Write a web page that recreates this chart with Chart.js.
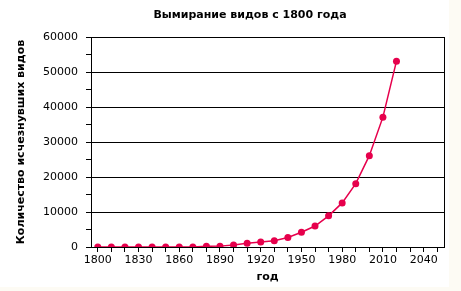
<!DOCTYPE html>
<html>
<head>
<meta charset="utf-8">
<script src="https://cdn.jsdelivr.net/npm/chart.js@4"></script>
<style>
  body { margin: 0; background: #fdfbf4; }
  canvas { display: block; }
</style>
</head>
<body>
<canvas id="myChart" width="461" height="291"></canvas>
<script>
const years = ['1800','1810','1820','1830','1840','1850','1860','1870','1880','1890',
    '1900','1910','1920','1930','1940','1950','1960','1970','1980','1990',
    '2000','2010','2020','2030','2040','2050']
const extinct = [0, 0, 0, 0, 0, 0, 0, 0, 200, 250,
    600, 1100, 1400, 1800, 2700, 4200, 6000, 8900, 12600, 18100,
    26100, 37100, 53100]
const xTickLabels = ['1800','1830','1860','1890','1920','1950','1980','2010','2040']
const yTickLabels = [0, 10000, 20000, 30000, 40000, 50000, 60000]

const chartTitle = 'Вымирание видов с 1800 года'
const lineColor = '#e6004c'

// white sheet, title and the right frame edge
const decor = {
    id: 'decor',
    beforeDraw(chart) {
        const c = chart.ctx
        c.save()
        c.fillStyle = '#ffffff'
        c.fillRect(0, 0, 449, 287)
        c.restore()
    },
    afterDraw(chart) {
        const c = chart.ctx
        const a = chart.chartArea
        c.save()
        c.strokeStyle = '#000'
        c.lineWidth = 1
        c.beginPath()
        c.moveTo(Math.round(a.right) + 0.5, a.top)
        c.lineTo(Math.round(a.right) + 0.5, a.bottom)
        c.stroke()
        c.fillStyle = '#000'
        c.font = 'bold 11px "DejaVu Sans"'
        c.textAlign = 'center'
        c.textBaseline = 'middle'
        c.fillText(chartTitle, 250, 15)
        c.restore()
    }
}

var ctx = document.getElementById('myChart');
var myChart = new Chart(ctx, {
    type: 'line',
    data: {
        labels: years,
        datasets: [{
            data: extinct,
            borderColor: lineColor,
            backgroundColor: lineColor,
            borderWidth: 1.5,
            pointRadius: 3.5,
            pointBorderWidth: 0,
            pointBackgroundColor: lineColor,
            tension: 0,
            clip: {left: 10, top: 10, right: 10, bottom: 0}
        }]
    },
    options: {
        responsive: false,
        animation: false,
        layout: {
            padding: {left: 0, right: 17, top: 37, bottom: 0}
        },
        plugins: {
            legend: {display: false},
            tooltip: {enabled: false}
        },
        scales: {
            x: {
                type: 'category',
                offset: true,
                afterFit: function (s) { s.height = 44 },
                grid: {
                    offset: false,
                    drawOnChartArea: false,
                    tickLength: 5,
                    tickColor: '#000'
                },
                border: {color: '#000', width: 1},
                ticks: {
                    autoSkip: false,
                    maxRotation: 0,
                    padding: 2,
                    color: '#000',
                    font: {family: 'DejaVu Sans', size: 11},
                    callback: function (v, i) {
                        const lab = this.getLabelForValue(v)
                        return xTickLabels.includes(lab) ? lab : ''
                    }
                },
                title: {
                    display: true,
                    text: 'год',
                    color: '#000',
                    font: {family: 'DejaVu Sans', size: 11, weight: 'bold'},
                    padding: {top: 0, bottom: 7}
                }
            },
            y: {
                min: 0,
                max: 60000,
                afterFit: function (s) { s.width = 91 },
                grid: {
                    color: (c) => (c.tick && yTickLabels.includes(c.tick.value)) ? '#000' : 'rgba(0,0,0,0)',
                    tickColor: '#000',
                    tickLength: 5
                },
                border: {color: '#000', width: 1},
                ticks: {
                    stepSize: 5000,
                    padding: 8,
                    color: '#000',
                    font: {family: 'DejaVu Sans', size: 11},
                    callback: (v) => yTickLabels.includes(v) ? String(v) : ''
                },
                title: {
                    display: true,
                    text: 'Количество исчезнувших видов',
                    color: '#000',
                    font: {family: 'DejaVu Sans', size: 11, weight: 'bold'},
                    padding: {top: 15, bottom: 0}
                }
            }
        }
    },
    plugins: [decor]
});
</script>
</body>
</html>
